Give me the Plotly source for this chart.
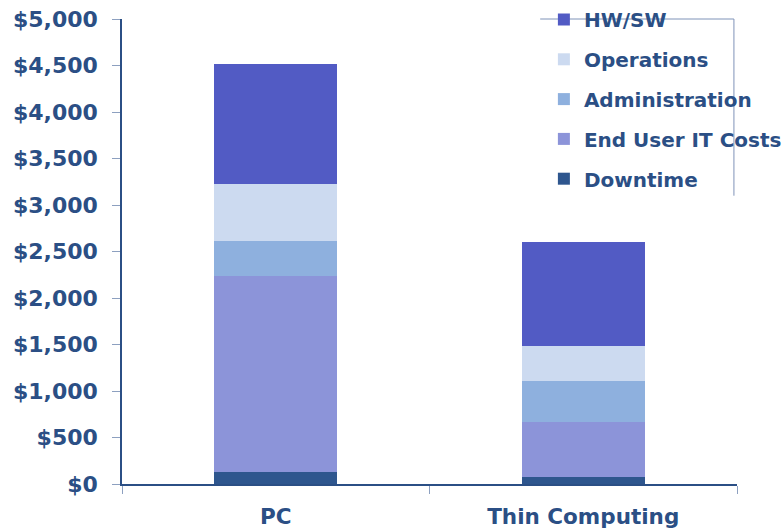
import plotly.graph_objects as go

categories = ["PC", "Thin Computing"]
downtime = [130, 75]
end_user = [2110, 590]
administration = [370, 440]
operations = [615, 375]
hw_sw = [1290, 1120]

tick_vals = [0, 500, 1000, 1500, 2000, 2500, 3000, 3500, 4000, 4500, 5000]
tick_text = ["$0", "$500", "$1,000", "$1,500", "$2,000", "$2,500", "$3,000",
             "$3,500", "$4,000", "$4,500", "$5,000"]

series = [
    ("Downtime", downtime, "#2E568E", 5),
    ("End User IT Costs", end_user, "#8C94D9", 4),
    ("Administration", administration, "#8EB0DE", 3),
    ("Operations", operations, "#CCDAF0", 2),
    ("HW/SW", hw_sw, "#525BC4", 1),
]

text_color = "#2B4F85"
fig = go.Figure()
for name, vals, col, rank in series:
    fig.add_trace(go.Bar(x=categories, y=vals, name=name, marker_color=col,
                         marker_line_width=0, legendgroup=name, legendrank=rank))

fig.update_layout(
    barmode="stack",
    bargap=0.6,
    width=784, height=530,
    margin=dict(l=122, r=47, t=19, b=46, autoexpand=False),
    plot_bgcolor="white", paper_bgcolor="white",
    font=dict(family="DejaVu Sans", color=text_color, size=21, weight="bold"),
    showlegend=True,
    legend=dict(x=0.686, xanchor="left", y=1.0, yref="container", yanchor="top",
                traceorder="grouped", tracegroupgap=10.8,
                bgcolor="rgba(0,0,0,0)", font=dict(size=20, color=text_color, weight="bold"),
                itemwidth=30),
    xaxis=dict(showline=True, linecolor=text_color, linewidth=1.5,
               ticks="outside", tickson="boundaries", ticklen=8,
               tickcolor="#8DA0C0", ticklabelstandoff=12,
               tickfont=dict(size=21.5, color=text_color, weight="bold"),
               showgrid=False),
    yaxis=dict(range=[0, 5000], tickvals=tick_vals, ticktext=tick_text,
               showline=True, linecolor=text_color, linewidth=1.5,
               ticks="outside", ticklen=8, tickcolor="#8DA0C0",
               ticklabelstandoff=10, showgrid=False, zeroline=False,
               tickfont=dict(size=22, color=text_color, weight="bold")),
    shapes=[
        dict(type="line", xref="paper", yref="paper", x0=0.68, x1=0.995, y0=1, y1=1,
             line=dict(color="#7F93B8", width=1)),
        dict(type="line", xref="paper", yref="paper", x0=0.995, x1=0.995, y0=1, y1=0.62,
             line=dict(color="#7F93B8", width=1)),
    ],
)

fig.write_html("out.html", config={"displayModeBar": False},
               post_script="document.body.style.margin='0';document.body.style.overflow='hidden';")
